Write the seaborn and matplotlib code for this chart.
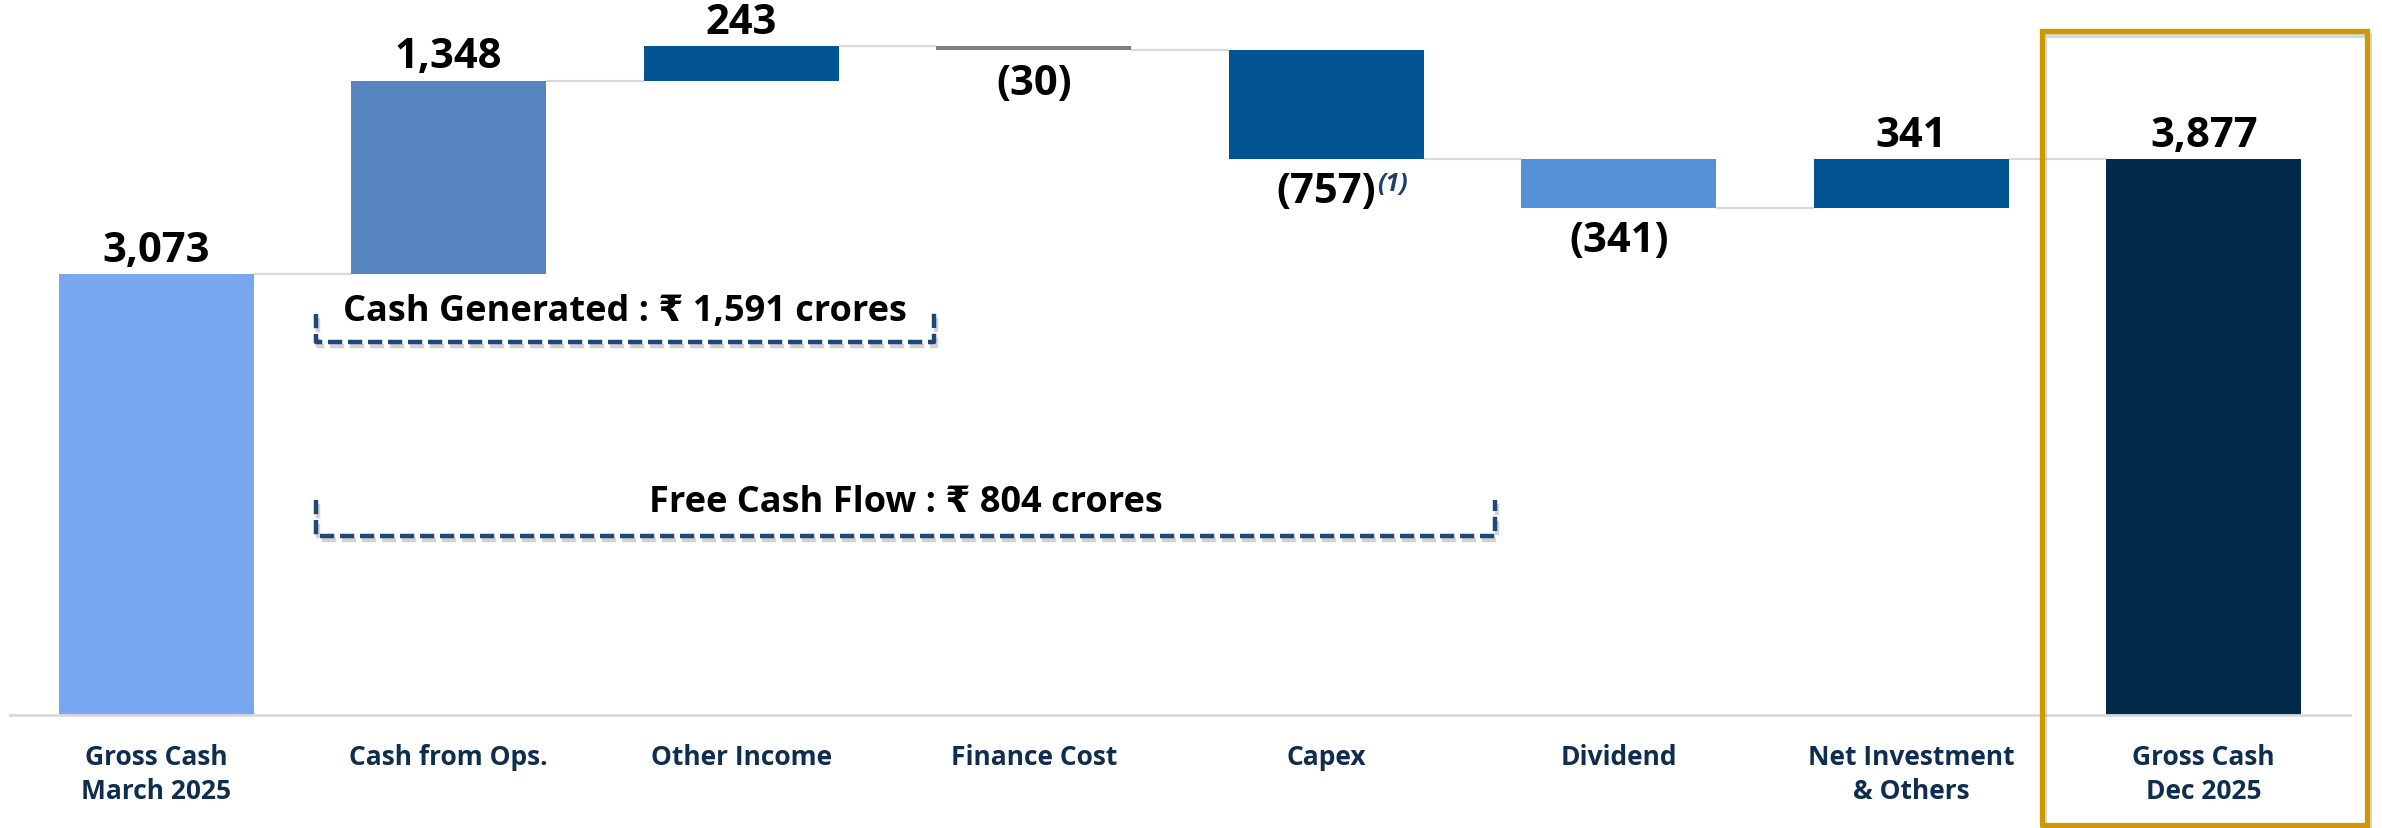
import numpy as np
import pandas as pd
import matplotlib
matplotlib.use("Agg")
import matplotlib.pyplot as plt
import matplotlib.patheffects as pe
import matplotlib.transforms as mtransforms
import seaborn as sns

# ---------------- data ----------------
categories = ["Gross Cash\nMarch 2025", "Cash from Ops.", "Other Income", "Finance Cost",
              "Capex", "Dividend", "Net Investment\n& Others", "Gross Cash\nDec 2025"]
values = [3073, 1348, 243, -30, -757, -341, 341, 3877]
kinds = ["total", "delta", "delta", "delta", "delta", "delta", "delta", "total"]
value_labels = ["3,073", "1,348", "243", "(30)", "(757)", "(341)", "341", "3,877"]
bar_colors = ["#79A7EF", "#5684BE", "#035493", "#7F7F7F", "#035493", "#5690D6", "#035493", "#022A4A"]
cash_generated_text = "Cash Generated : ₹ 1,591 crores"
free_cash_flow_text = "Free Cash Flow : ₹ 804 crores"
footnote_mark = "(1)"

# ---------------- waterfall geometry ----------------
bottoms, heights, levels = [], [], []
running = 0
for v, k in zip(values, kinds):
    if k == "total":
        bottoms.append(0); heights.append(v); running = v
    else:
        bottoms.append(running); heights.append(v); running += v
    levels.append(running)
df = pd.DataFrame({"category": categories, "height": heights, "bottom": bottoms})

sns.set_theme(style="white")
plt.rcParams["font.family"] = ["Open Sans", "DejaVu Sans"]

W, H = 2382, 829
fig = plt.figure(figsize=(W / 100, H / 100), dpi=100)
ax = fig.add_axes([10 / W, (H - 716) / H, 2340 / W, 716 / H])

BW = 0.667
sns.barplot(data=df, x="category", y="height", order=categories, bottom=df["bottom"].values,
            color=bar_colors[0], width=BW, errorbar=None, saturation=1, ax=ax, linewidth=0)
for bar, c in zip(ax.containers[0], bar_colors):
    bar.set_facecolor(c)
    bar.set_edgecolor("none")

ax.set_xlim(-0.5, 7.5)
ax.set_ylim(0, 4990)
ax.set_yticks([])
ax.set_xlabel(""); ax.set_ylabel("")
for s in ["top", "left", "right"]:
    ax.spines[s].set_visible(False)
ax.spines["bottom"].set_color("#D9D9D9")
ax.spines["bottom"].set_linewidth(2)
ax.set_xticks(range(len(categories)))
ax.set_xticklabels(categories, fontsize=19, fontweight="bold", color="#0E2D4F",
                   linespacing=1.35, multialignment="center")
ax.tick_params(axis="x", length=0, pad=20)

# connectors
for i in range(len(categories) - 1):
    ax.plot([i + BW / 2, i + 1 - BW / 2], [levels[i], levels[i]], color="#D9D9D9", lw=1.6,
            zorder=0.5, solid_capstyle="butt")

# value labels
for i, (b, h, lab) in enumerate(zip(bottoms, heights, value_labels)):
    top, low = max(b, b + h), min(b, b + h)
    if kinds[i] == "total" or h >= 0:
        ax.annotate(lab, xy=(i, top), xytext=(0, 9.5), textcoords="offset points",
                    ha="center", va="baseline", fontsize=30, fontweight="bold", color="black")
    else:
        t = ax.annotate(lab, xy=(i, low), xytext=(0, -9), textcoords="offset points",
                        ha="center", va="top", fontsize=30, fontweight="bold", color="black")
        if categories[i] == "Capex":
            ax.annotate(footnote_mark, xy=(1, 1), xycoords=t, xytext=(1, 0),
                        textcoords="offset points", ha="left", va="top", fontsize=18,
                        fontweight="bold", style="italic", color="#1F3F66")

# brackets
shadow = [pe.SimpleLineShadow(offset=(1.5, -3), shadow_color="gray", alpha=0.35), pe.Normal()]
def bracket(x0, x1, y_line, y_left, y_right, text, ty):
    ax.plot([x0, x0, x1, x1], [y_left, y_line, y_line, y_right], color="#1F4778", lw=3.2,
            ls=(0, (3.2, 1.3)), solid_joinstyle="round", clip_on=False, path_effects=shadow)
    ax.text((x0 + x1) / 2, ty, text, ha="center", va="center", fontsize=26,
            fontweight="bold", color="black")

bracket(0.546, 2.66, 2599, 2794, 2830, cash_generated_text, 2815)
bracket(0.546, 4.577, 1247, 1498, 1498, free_cash_flow_text, 1484)

# gold highlight box around final category
trans = mtransforms.blended_transform_factory(ax.transData, ax.transAxes)
bx0, bx1, by0, by1 = 7 - 0.553, 7 + 0.557, -0.153, 0.955
ax.plot([bx0, bx1, bx1, bx0, bx0], [by0, by0, by1, by1, by0], transform=trans,
        color="#CC9900", lw=3.8, clip_on=False, zorder=5, solid_joinstyle="miter",
        path_effects=[pe.SimpleLineShadow(offset=(1.5, -2.5), shadow_color="gray", alpha=0.3), pe.Normal()])

fig.savefig("out.png", dpi=100)
